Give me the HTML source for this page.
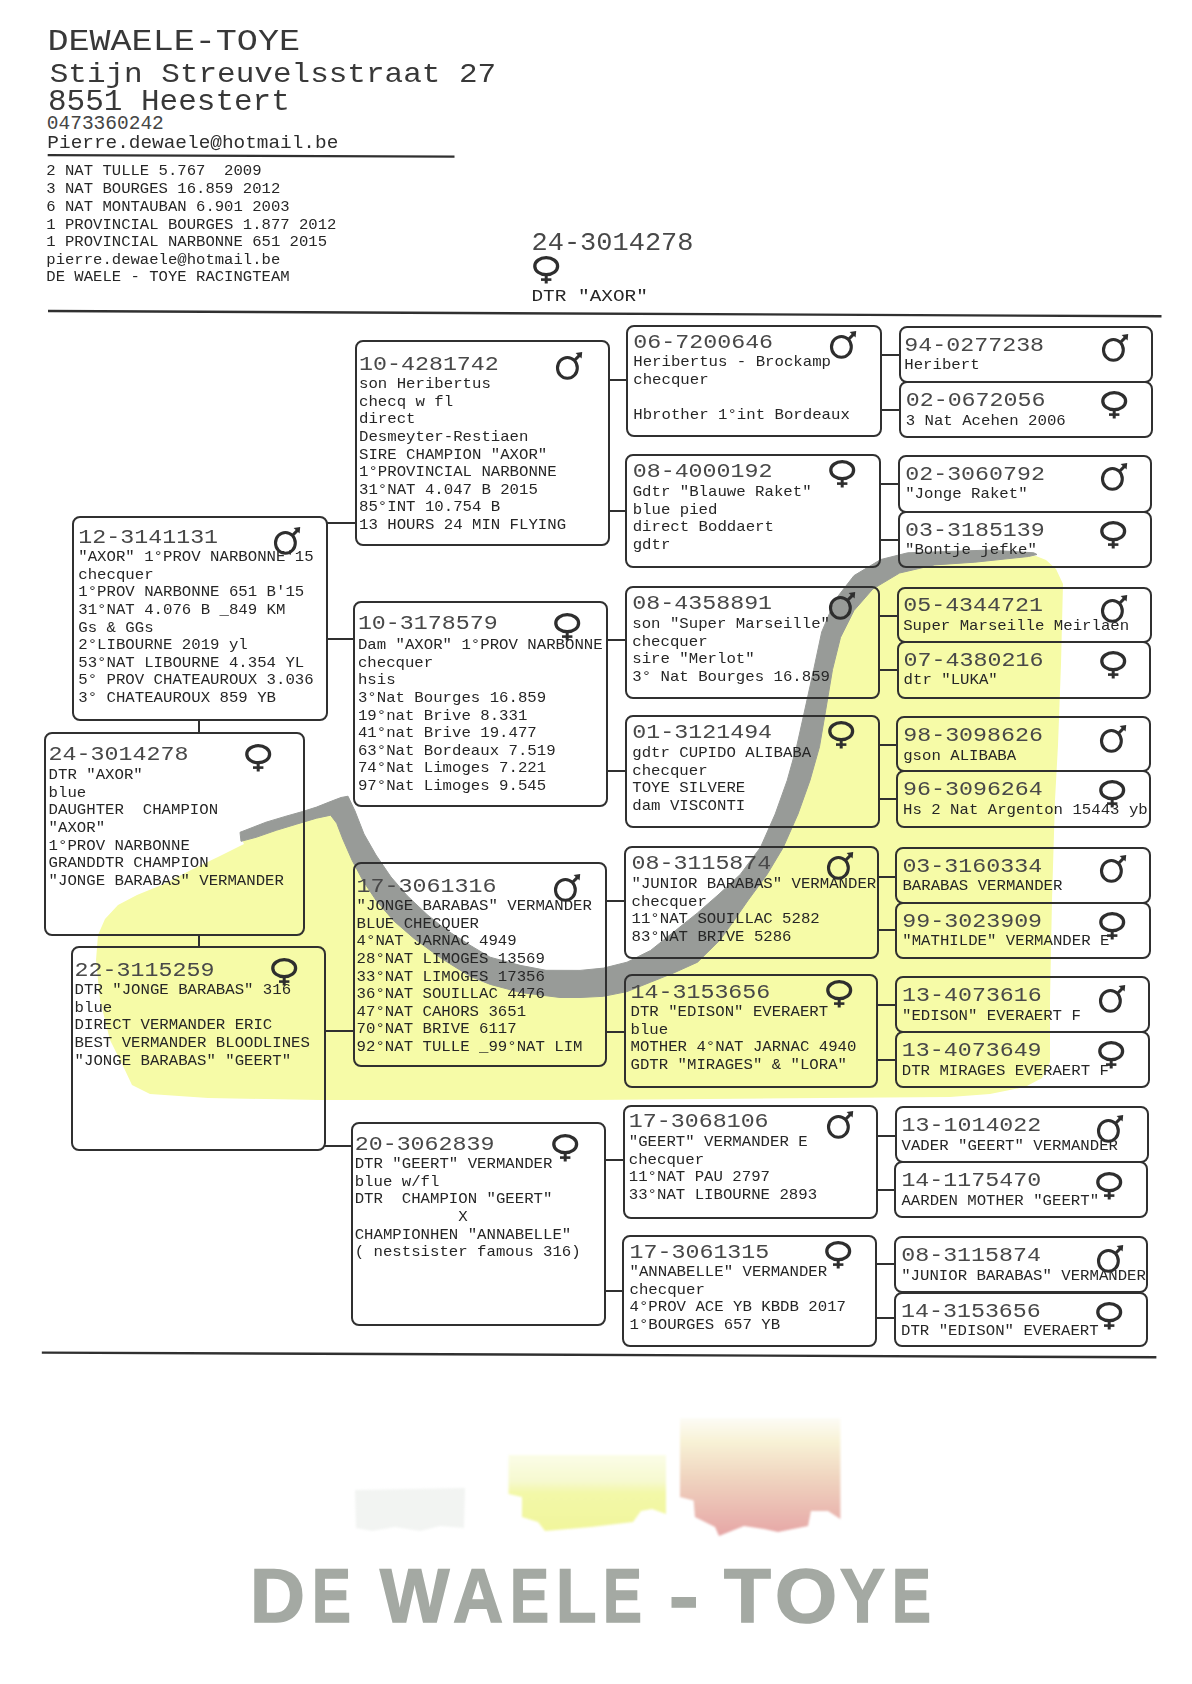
<!DOCTYPE html>
<html><head><meta charset="utf-8"><style>
html,body{margin:0;padding:0;background:#fff;}
body{width:1192px;height:1684px;position:relative;overflow:hidden;}
.abs{position:absolute;left:0;top:0;}
.t{position:absolute;white-space:pre;font-family:"Liberation Mono",monospace;transform-origin:0 0;}
.bx{position:absolute;box-sizing:border-box;border:2px solid #303030;border-radius:8px;}
.ln{position:absolute;background:#303030;}
.sym{position:absolute;overflow:visible;}
.lg{position:absolute;font-family:"Liberation Sans",sans-serif;font-weight:bold;font-size:76.5px;line-height:76.5px;color:#a4a9a3;white-space:pre;transform-origin:0 0;-webkit-text-stroke:1.6px #a4a9a3;}
</style></head><body>
<svg class="abs" style="filter:blur(0.7px)" width="1192" height="1684" viewBox="0 0 1192 1684"><polygon points="240.0,836.0 290.0,820.0 333.0,806.0 345.0,806.0 358.0,838.0 372.0,866.0 390.0,893.0 410.0,915.0 440.0,941.0 470.0,958.0 505.0,973.0 545.0,983.0 580.0,985.0 615.0,980.0 650.0,967.0 685.0,945.0 715.0,918.0 745.0,882.0 770.0,845.0 788.0,808.0 800.0,770.0 810.0,725.0 818.0,680.0 828.0,640.0 845.0,606.0 870.0,582.0 905.0,566.0 950.0,560.0 1000.0,557.0 1036.0,556.0 1046.0,560.0 1056.0,569.0 1063.0,584.0 1061.0,664.0 1058.0,745.0 1055.0,800.0 1052.0,900.0 1050.0,1000.0 1050.0,1062.0 1042.0,1078.0 1025.0,1087.0 990.0,1094.0 950.0,1097.0 590.0,1100.0 320.0,1100.0 208.0,1098.0 150.0,1094.0 132.0,1085.0 124.0,1068.0 110.0,1040.0 100.0,1000.0 96.0,960.0 98.0,935.0 105.0,919.0 118.0,905.0 137.0,895.0 164.0,884.0 191.0,870.0 220.0,856.0 244.0,844.0" fill="#f6fba7"/><polygon points="240.0,832.3 266.0,822.2 286.0,816.2 302.4,811.6 316.5,807.1 331.6,801.1 341.0,797.5 348.0,796.2 355.0,811.0 364.0,834.0 376.0,855.0 391.0,877.0 407.0,895.5 427.0,914.5 445.0,929.0 470.0,945.2 490.0,957.2 520.0,965.3 546.0,970.3 580.0,970.4 603.5,968.1 627.0,962.2 650.5,950.5 674.0,931.7 697.5,912.9 718.0,895.0 740.3,874.4 760.4,847.5 775.2,814.0 787.2,780.4 796.6,746.8 803.0,718.0 813.7,669.6 821.7,632.0 835.2,599.8 854.0,575.6 880.8,559.5 907.7,552.8 948.0,551.5 988.2,550.1 1033.8,552.8 1037.0,554.5 1028.5,556.5 974.8,562.2 934.5,564.9 899.6,573.0 872.8,589.0 854.0,610.5 840.5,637.4 832.5,669.6 824.4,718.0 819.5,746.8 810.0,780.4 798.0,814.0 783.2,847.5 767.1,874.4 748.3,900.0 733.0,922.0 720.0,940.0 697.5,962.2 674.0,972.8 650.5,982.2 627.0,991.6 603.5,996.3 580.0,997.5 560.0,997.5 520.5,992.5 490.3,984.4 470.2,976.4 440.8,958.0 414.0,938.4 393.8,920.9 376.4,900.8 363.0,880.7 352.2,860.5 342.8,839.1 336.7,823.2 330.6,815.2 316.5,818.2 296.4,824.2 276.3,830.3 256.1,837.3 241.0,841.3" fill="#989b98" stroke="#989b98" stroke-width="1" stroke-linejoin="round"/></svg>
<svg class="abs" style="filter:blur(1.2px)" width="1192" height="1684" viewBox="0 0 1192 1684"><defs><linearGradient id="gy" x1="0" y1="0" x2="0" y2="1"><stop offset="0" stop-color="#fbfde8"/><stop offset="0.35" stop-color="#f6f9cf"/><stop offset="0.5" stop-color="#f3f8a8"/><stop offset="1" stop-color="#f1f69c"/></linearGradient><linearGradient id="gp" x1="0" y1="0" x2="0" y2="1"><stop offset="0" stop-color="#fdfcf6"/><stop offset="0.2" stop-color="#f8f2d6"/><stop offset="0.5" stop-color="#f0d5c0"/><stop offset="1" stop-color="#e6a6a6"/></linearGradient></defs><path d="M355 1490 L465 1488 L464 1528 L440 1526 L420 1531 L395 1527 L372 1531 L356 1528 Z" fill="#f2f4f2"/><path d="M508.5 1455 L666 1455 L666 1514 L652 1509 L641 1511 L633 1522 L591 1527 L545 1531 L538 1522 L522 1517 L522 1497 L508.5 1494 Z" fill="url(#gy)"/><path d="M680 1418 L840.4 1418 L840.4 1519 L828 1511 L811 1511 L808 1526 L778 1532 L764 1529 L744 1526 L719 1536 L715 1527 L695 1517 L693.6 1500.6 L680 1497 Z" fill="url(#gp)"/></svg>
<svg class="abs" width="1192" height="1684" viewBox="0 0 1192 1684"><line x1="47.7" y1="155.2" x2="454.5" y2="156.6" stroke="#303030" stroke-width="2.2"/><line x1="48" y1="311" x2="1161.5" y2="316.3" stroke="#303030" stroke-width="2.4"/><line x1="41.8" y1="1352.6" x2="1156.4" y2="1357.3" stroke="#303030" stroke-width="2.4"/></svg>
<div class="t" style="left:47.43px;top:21.91px;font-size:35.10px;line-height:48.977px;transform:scaleY(0.86);color:#383838;font-weight:normal;">DEWAELE-TOYE</div>
<div class="t" style="left:49.69px;top:55.81px;font-size:31.00px;line-height:40.435px;transform:scaleY(0.92);color:#383838;font-weight:normal;">Stijn Streuvelsstraat 27</div>
<div class="t" style="left:47.98px;top:83.73px;font-size:31.00px;line-height:40.000px;transform:scaleY(0.93);color:#383838;font-weight:normal;">8551 Heestert</div>
<div class="t" style="left:46.81px;top:112.51px;font-size:19.50px;line-height:23.400px;transform:scaleY(1.0);color:#454545;font-weight:normal;">0473360242</div>
<div class="t" style="left:47.37px;top:132.24px;font-size:19.40px;line-height:25.443px;transform:scaleY(0.915);color:#2e2e2e;font-weight:normal;">Pierre.dewaele@hotmail.be</div>
<div class="t" style="left:46.31px;top:162.57px;font-size:15.60px;line-height:18.505px;transform:scaleY(0.95);color:#262626;font-weight:normal;">2 NAT TULLE 5.767  2009
3 NAT BOURGES 16.859 2012
6 NAT MONTAUBAN 6.901 2003
1 PROVINCIAL BOURGES 1.877 2012
1 PROVINCIAL NARBONNE 651 2015
pierre.dewaele@hotmail.be
DE WAELE - TOYE RACINGTEAM</div>
<div class="t" style="left:531.51px;top:226.95px;font-size:27.00px;line-height:34.468px;transform:scaleY(0.94);color:#484848;font-weight:normal;">24-3014278</div>
<svg class="sym" style="left:533.0px;top:256.0px" width="27" height="28" viewBox="0 0 27 28"><ellipse cx="13.2" cy="10.2" rx="11.4" ry="8.5" fill="none" stroke="#2e2e2e" stroke-width="3.3"/><path d="M13.2 18 L13.2 27.5" stroke="#2e2e2e" stroke-width="3" fill="none"/><path d="M8 23.6 L18.4 23.6" stroke="#2e2e2e" stroke-width="2.6" fill="none"/></svg>
<div class="t" style="left:531.47px;top:285.28px;font-size:19.40px;line-height:28.048px;transform:scaleY(0.83);color:#262626;font-weight:normal;">DTR "AXOR"</div>
<div class="bx" style="left:72.0px;top:515.6px;width:255.6px;height:205.4px"></div>
<div class="t" style="left:78.30px;top:524.31px;font-size:23.30px;line-height:30.895px;transform:scaleY(0.905);color:#484848;font-weight:normal;">12-3141131</div>
<div class="t" style="left:78.30px;top:549.11px;font-size:15.70px;line-height:18.925px;transform:scaleY(0.93);color:#262626;font-weight:normal;">"AXOR" 1°PROV NARBONNE'15
checquer
1°PROV NARBONNE 651 B'15
31°NAT 4.076 B _849 KM
Gs &amp; GGs
2°LIBOURNE 2019 yl
53°NAT LIBOURNE 4.354 YL
5° PROV CHATEAUROUX 3.036
3° CHATEAUROUX 859 YB</div>
<svg class="sym" style="left:273.8px;top:526.1px" width="27" height="28" viewBox="0 0 27 28"><ellipse cx="11.4" cy="16.9" rx="9.9" ry="10.4" fill="none" stroke="#2e2e2e" stroke-width="3.1"/><path d="M18.2 9.8 L23.4 4.4" stroke="#2e2e2e" stroke-width="3" fill="none"/><path d="M19.6 2.0 L26.2 1.0 L25.6 7.6 Z" fill="#2e2e2e"/></svg>
<div class="bx" style="left:43.8px;top:731.9px;width:261.6px;height:203.9px"></div>
<div class="t" style="left:48.60px;top:741.11px;font-size:23.30px;line-height:30.895px;transform:scaleY(0.905);color:#484848;font-weight:normal;">24-3014278</div>
<div class="t" style="left:48.60px;top:767.21px;font-size:15.70px;line-height:18.925px;transform:scaleY(0.93);color:#262626;font-weight:normal;">DTR "AXOR"
blue
DAUGHTER  CHAMPION
"AXOR"
1°PROV NARBONNE
GRANDDTR CHAMPION
"JONGE BARABAS" VERMANDER</div>
<svg class="sym" style="left:245.3px;top:743.6px" width="27" height="28" viewBox="0 0 27 28"><ellipse cx="13.2" cy="10.2" rx="11.4" ry="8.5" fill="none" stroke="#2e2e2e" stroke-width="3.3"/><path d="M13.2 18 L13.2 27.5" stroke="#2e2e2e" stroke-width="3" fill="none"/><path d="M8 23.6 L18.4 23.6" stroke="#2e2e2e" stroke-width="2.6" fill="none"/></svg>
<div class="bx" style="left:70.7px;top:946.0px;width:254.9px;height:205.4px"></div>
<div class="t" style="left:74.60px;top:957.21px;font-size:23.30px;line-height:30.895px;transform:scaleY(0.905);color:#484848;font-weight:normal;">22-3115259</div>
<div class="t" style="left:74.60px;top:982.01px;font-size:15.70px;line-height:18.925px;transform:scaleY(0.93);color:#262626;font-weight:normal;">DTR "JONGE BARABAS" 316
blue
DIRECT VERMANDER ERIC
BEST VERMANDER BLOODLINES
"JONGE BARABAS" "GEERT"</div>
<svg class="sym" style="left:271.2px;top:958.2px" width="27" height="28" viewBox="0 0 27 28"><ellipse cx="13.2" cy="10.2" rx="11.4" ry="8.5" fill="none" stroke="#2e2e2e" stroke-width="3.3"/><path d="M13.2 18 L13.2 27.5" stroke="#2e2e2e" stroke-width="3" fill="none"/><path d="M8 23.6 L18.4 23.6" stroke="#2e2e2e" stroke-width="2.6" fill="none"/></svg>
<div class="bx" style="left:354.6px;top:340.4px;width:255.2px;height:205.9px"></div>
<div class="t" style="left:359.00px;top:350.61px;font-size:23.30px;line-height:30.895px;transform:scaleY(0.905);color:#484848;font-weight:normal;">10-4281742</div>
<div class="t" style="left:359.00px;top:376.41px;font-size:15.70px;line-height:18.925px;transform:scaleY(0.93);color:#262626;font-weight:normal;">son Heribertus
checq w fl
direct
Desmeyter-Restiaen
SIRE CHAMPION "AXOR"
1°PROVINCIAL NARBONNE
31°NAT 4.047 B 2015
85°INT 10.754 B
13 HOURS 24 MIN FLYING</div>
<svg class="sym" style="left:556.0px;top:350.9px" width="27" height="28" viewBox="0 0 27 28"><ellipse cx="11.4" cy="16.9" rx="9.9" ry="10.4" fill="none" stroke="#2e2e2e" stroke-width="3.1"/><path d="M18.2 9.8 L23.4 4.4" stroke="#2e2e2e" stroke-width="3" fill="none"/><path d="M19.6 2.0 L26.2 1.0 L25.6 7.6 Z" fill="#2e2e2e"/></svg>
<div class="bx" style="left:353.4px;top:601.0px;width:254.8px;height:206.1px"></div>
<div class="t" style="left:357.90px;top:610.41px;font-size:23.30px;line-height:30.895px;transform:scaleY(0.905);color:#484848;font-weight:normal;">10-3178579</div>
<div class="t" style="left:357.90px;top:637.01px;font-size:15.70px;line-height:18.925px;transform:scaleY(0.93);color:#262626;font-weight:normal;">Dam "AXOR" 1°PROV NARBONNE
checquer
hsis
3°Nat Bourges 16.859
19°nat Brive 8.331
41°nat Brive 19.477
63°Nat Bordeaux 7.519
74°Nat Limoges 7.221
97°Nat Limoges 9.545</div>
<svg class="sym" style="left:553.9px;top:613.2px" width="27" height="28" viewBox="0 0 27 28"><ellipse cx="13.2" cy="10.2" rx="11.4" ry="8.5" fill="none" stroke="#2e2e2e" stroke-width="3.3"/><path d="M13.2 18 L13.2 27.5" stroke="#2e2e2e" stroke-width="3" fill="none"/><path d="M8 23.6 L18.4 23.6" stroke="#2e2e2e" stroke-width="2.6" fill="none"/></svg>
<div class="bx" style="left:352.6px;top:862.4px;width:254.9px;height:204.7px"></div>
<div class="t" style="left:356.60px;top:872.61px;font-size:23.30px;line-height:30.895px;transform:scaleY(0.905);color:#484848;font-weight:normal;">17-3061316</div>
<div class="t" style="left:356.60px;top:897.91px;font-size:15.70px;line-height:18.925px;transform:scaleY(0.93);color:#262626;font-weight:normal;">"JONGE BARABAS" VERMANDER
BLUE CHECQUER
4°NAT JARNAC 4949
28°NAT LIMOGES 13569
33°NAT LIMOGES 17356
36°NAT SOUILLAC 4476
47°NAT CAHORS 3651
70°NAT BRIVE 6117
92°NAT TULLE _99°NAT LIM</div>
<svg class="sym" style="left:553.7px;top:872.9px" width="27" height="28" viewBox="0 0 27 28"><ellipse cx="11.4" cy="16.9" rx="9.9" ry="10.4" fill="none" stroke="#2e2e2e" stroke-width="3.1"/><path d="M18.2 9.8 L23.4 4.4" stroke="#2e2e2e" stroke-width="3" fill="none"/><path d="M19.6 2.0 L26.2 1.0 L25.6 7.6 Z" fill="#2e2e2e"/></svg>
<div class="bx" style="left:351.1px;top:1121.7px;width:255.4px;height:204.4px"></div>
<div class="t" style="left:354.70px;top:1130.91px;font-size:23.30px;line-height:30.895px;transform:scaleY(0.905);color:#484848;font-weight:normal;">20-3062839</div>
<div class="t" style="left:354.70px;top:1156.21px;font-size:15.70px;line-height:18.925px;transform:scaleY(0.93);color:#262626;font-weight:normal;">DTR "GEERT" VERMANDER
blue w/fl
DTR  CHAMPION "GEERT"
           X
CHAMPIONHEN "ANNABELLE"
( nestsister famous 316)</div>
<svg class="sym" style="left:552.1px;top:1133.9px" width="27" height="28" viewBox="0 0 27 28"><ellipse cx="13.2" cy="10.2" rx="11.4" ry="8.5" fill="none" stroke="#2e2e2e" stroke-width="3.3"/><path d="M13.2 18 L13.2 27.5" stroke="#2e2e2e" stroke-width="3" fill="none"/><path d="M8 23.6 L18.4 23.6" stroke="#2e2e2e" stroke-width="2.6" fill="none"/></svg>
<div class="bx" style="left:626.0px;top:324.6px;width:255.6px;height:112.2px"></div>
<div class="t" style="left:633.30px;top:328.81px;font-size:23.30px;line-height:30.895px;transform:scaleY(0.905);color:#484848;font-weight:normal;">06-7200646</div>
<div class="t" style="left:633.30px;top:353.71px;font-size:15.70px;line-height:18.925px;transform:scaleY(0.93);color:#262626;font-weight:normal;">Heribertus - Brockamp
checquer

Hbrother 1°int Bordeaux</div>
<svg class="sym" style="left:830.2px;top:329.8px" width="27" height="28" viewBox="0 0 27 28"><ellipse cx="11.4" cy="16.9" rx="9.9" ry="10.4" fill="none" stroke="#2e2e2e" stroke-width="3.1"/><path d="M18.2 9.8 L23.4 4.4" stroke="#2e2e2e" stroke-width="3" fill="none"/><path d="M19.6 2.0 L26.2 1.0 L25.6 7.6 Z" fill="#2e2e2e"/></svg>
<div class="bx" style="left:625.4px;top:454.2px;width:255.6px;height:113.5px"></div>
<div class="t" style="left:632.70px;top:458.41px;font-size:23.30px;line-height:30.895px;transform:scaleY(0.905);color:#484848;font-weight:normal;">08-4000192</div>
<div class="t" style="left:632.70px;top:484.31px;font-size:15.70px;line-height:18.925px;transform:scaleY(0.93);color:#262626;font-weight:normal;">Gdtr "Blauwe Raket"
blue pied
direct Boddaert
gdtr</div>
<svg class="sym" style="left:828.5px;top:459.9px" width="27" height="28" viewBox="0 0 27 28"><ellipse cx="13.2" cy="10.2" rx="11.4" ry="8.5" fill="none" stroke="#2e2e2e" stroke-width="3.3"/><path d="M13.2 18 L13.2 27.5" stroke="#2e2e2e" stroke-width="3" fill="none"/><path d="M8 23.6 L18.4 23.6" stroke="#2e2e2e" stroke-width="2.6" fill="none"/></svg>
<div class="bx" style="left:625.0px;top:585.6px;width:255.0px;height:113.2px"></div>
<div class="t" style="left:632.30px;top:589.81px;font-size:23.30px;line-height:30.895px;transform:scaleY(0.905);color:#484848;font-weight:normal;">08-4358891</div>
<div class="t" style="left:632.30px;top:615.71px;font-size:15.70px;line-height:18.925px;transform:scaleY(0.93);color:#262626;font-weight:normal;">son "Super Marseille"
checquer
sire "Merlot"
3° Nat Bourges 16.859</div>
<svg class="sym" style="left:828.6px;top:590.8px" width="27" height="28" viewBox="0 0 27 28"><ellipse cx="11.4" cy="16.9" rx="9.9" ry="10.4" fill="none" stroke="#2e2e2e" stroke-width="3.1"/><path d="M18.2 9.8 L23.4 4.4" stroke="#2e2e2e" stroke-width="3" fill="none"/><path d="M19.6 2.0 L26.2 1.0 L25.6 7.6 Z" fill="#2e2e2e"/></svg>
<div class="bx" style="left:625.0px;top:714.8px;width:255.0px;height:113.2px"></div>
<div class="t" style="left:632.30px;top:719.01px;font-size:23.30px;line-height:30.895px;transform:scaleY(0.905);color:#484848;font-weight:normal;">01-3121494</div>
<div class="t" style="left:632.30px;top:744.91px;font-size:15.70px;line-height:18.925px;transform:scaleY(0.93);color:#262626;font-weight:normal;">gdtr CUPIDO ALIBABA
checquer
TOYE SILVERE
dam VISCONTI</div>
<svg class="sym" style="left:827.5px;top:720.5px" width="27" height="28" viewBox="0 0 27 28"><ellipse cx="13.2" cy="10.2" rx="11.4" ry="8.5" fill="none" stroke="#2e2e2e" stroke-width="3.3"/><path d="M13.2 18 L13.2 27.5" stroke="#2e2e2e" stroke-width="3" fill="none"/><path d="M8 23.6 L18.4 23.6" stroke="#2e2e2e" stroke-width="2.6" fill="none"/></svg>
<div class="bx" style="left:624.2px;top:846.0px;width:254.5px;height:112.5px"></div>
<div class="t" style="left:631.50px;top:850.21px;font-size:23.30px;line-height:30.895px;transform:scaleY(0.905);color:#484848;font-weight:normal;">08-3115874</div>
<div class="t" style="left:631.50px;top:876.11px;font-size:15.70px;line-height:18.925px;transform:scaleY(0.93);color:#262626;font-weight:normal;">"JUNIOR BARABAS" VERMANDER
checquer
11°NAT SOUILLAC 5282
83°NAT BRIVE 5286</div>
<svg class="sym" style="left:827.3px;top:851.1px" width="27" height="28" viewBox="0 0 27 28"><ellipse cx="11.4" cy="16.9" rx="9.9" ry="10.4" fill="none" stroke="#2e2e2e" stroke-width="3.1"/><path d="M18.2 9.8 L23.4 4.4" stroke="#2e2e2e" stroke-width="3" fill="none"/><path d="M19.6 2.0 L26.2 1.0 L25.6 7.6 Z" fill="#2e2e2e"/></svg>
<div class="bx" style="left:624.2px;top:974.3px;width:254.2px;height:113.8px"></div>
<div class="t" style="left:630.50px;top:978.51px;font-size:23.30px;line-height:30.895px;transform:scaleY(0.905);color:#484848;font-weight:normal;">14-3153656</div>
<div class="t" style="left:630.50px;top:1004.41px;font-size:15.70px;line-height:18.925px;transform:scaleY(0.93);color:#262626;font-weight:normal;">DTR "EDISON" EVERAERT
blue
MOTHER 4°NAT JARNAC 4940
GDTR "MIRAGES" &amp; "LORA"</div>
<svg class="sym" style="left:825.9px;top:980.0px" width="27" height="28" viewBox="0 0 27 28"><ellipse cx="13.2" cy="10.2" rx="11.4" ry="8.5" fill="none" stroke="#2e2e2e" stroke-width="3.3"/><path d="M13.2 18 L13.2 27.5" stroke="#2e2e2e" stroke-width="3" fill="none"/><path d="M8 23.6 L18.4 23.6" stroke="#2e2e2e" stroke-width="2.6" fill="none"/></svg>
<div class="bx" style="left:623.4px;top:1105.0px;width:254.5px;height:114.0px"></div>
<div class="t" style="left:628.80px;top:1108.21px;font-size:23.30px;line-height:30.895px;transform:scaleY(0.905);color:#484848;font-weight:normal;">17-3068106</div>
<div class="t" style="left:628.80px;top:1134.41px;font-size:15.70px;line-height:18.925px;transform:scaleY(0.93);color:#262626;font-weight:normal;">"GEERT" VERMANDER E
checquer
11°NAT PAU 2797
33°NAT LIBOURNE 2893</div>
<svg class="sym" style="left:826.5px;top:1110.2px" width="27" height="28" viewBox="0 0 27 28"><ellipse cx="11.4" cy="16.9" rx="9.9" ry="10.4" fill="none" stroke="#2e2e2e" stroke-width="3.1"/><path d="M18.2 9.8 L23.4 4.4" stroke="#2e2e2e" stroke-width="3" fill="none"/><path d="M19.6 2.0 L26.2 1.0 L25.6 7.6 Z" fill="#2e2e2e"/></svg>
<div class="bx" style="left:622.2px;top:1235.2px;width:255.0px;height:112.0px"></div>
<div class="t" style="left:629.50px;top:1239.41px;font-size:23.30px;line-height:30.895px;transform:scaleY(0.905);color:#484848;font-weight:normal;">17-3061315</div>
<div class="t" style="left:629.50px;top:1263.81px;font-size:15.70px;line-height:18.925px;transform:scaleY(0.93);color:#262626;font-weight:normal;">"ANNABELLE" VERMANDER
checquer
4°PROV ACE YB KBDB 2017
1°BOURGES 657 YB</div>
<svg class="sym" style="left:824.7px;top:1240.9px" width="27" height="28" viewBox="0 0 27 28"><ellipse cx="13.2" cy="10.2" rx="11.4" ry="8.5" fill="none" stroke="#2e2e2e" stroke-width="3.3"/><path d="M13.2 18 L13.2 27.5" stroke="#2e2e2e" stroke-width="3" fill="none"/><path d="M8 23.6 L18.4 23.6" stroke="#2e2e2e" stroke-width="2.6" fill="none"/></svg>
<div class="bx" style="left:898.7px;top:326.1px;width:254.2px;height:57.2px"></div>
<div class="t" style="left:904.30px;top:331.61px;font-size:23.30px;line-height:30.895px;transform:scaleY(0.905);color:#484848;font-weight:normal;">94-0277238</div>
<div class="t" style="left:904.30px;top:357.41px;font-size:15.70px;line-height:18.925px;transform:scaleY(0.93);color:#262626;font-weight:normal;">Heribert</div>
<svg class="sym" style="left:1101.8px;top:333.4px" width="27" height="28" viewBox="0 0 27 28"><ellipse cx="11.4" cy="16.9" rx="9.9" ry="10.4" fill="none" stroke="#2e2e2e" stroke-width="3.1"/><path d="M18.2 9.8 L23.4 4.4" stroke="#2e2e2e" stroke-width="3" fill="none"/><path d="M19.6 2.0 L26.2 1.0 L25.6 7.6 Z" fill="#2e2e2e"/></svg>
<div class="bx" style="left:898.7px;top:381.3px;width:254.2px;height:56.8px"></div>
<div class="t" style="left:905.70px;top:387.31px;font-size:23.30px;line-height:30.895px;transform:scaleY(0.905);color:#484848;font-weight:normal;">02-0672056</div>
<div class="t" style="left:905.70px;top:412.61px;font-size:15.70px;line-height:18.925px;transform:scaleY(0.93);color:#262626;font-weight:normal;">3 Nat Acehen 2006</div>
<svg class="sym" style="left:1100.9px;top:391.4px" width="27" height="28" viewBox="0 0 27 28"><ellipse cx="13.2" cy="10.2" rx="11.4" ry="8.5" fill="none" stroke="#2e2e2e" stroke-width="3.3"/><path d="M13.2 18 L13.2 27.5" stroke="#2e2e2e" stroke-width="3" fill="none"/><path d="M8 23.6 L18.4 23.6" stroke="#2e2e2e" stroke-width="2.6" fill="none"/></svg>
<div class="bx" style="left:898.2px;top:455.0px;width:254.2px;height:57.7px"></div>
<div class="t" style="left:905.20px;top:461.01px;font-size:23.30px;line-height:30.895px;transform:scaleY(0.905);color:#484848;font-weight:normal;">02-3060792</div>
<div class="t" style="left:905.20px;top:486.31px;font-size:15.70px;line-height:18.925px;transform:scaleY(0.93);color:#262626;font-weight:normal;">"Jonge Raket"</div>
<svg class="sym" style="left:1101.3px;top:462.3px" width="27" height="28" viewBox="0 0 27 28"><ellipse cx="11.4" cy="16.9" rx="9.9" ry="10.4" fill="none" stroke="#2e2e2e" stroke-width="3.1"/><path d="M18.2 9.8 L23.4 4.4" stroke="#2e2e2e" stroke-width="3" fill="none"/><path d="M19.6 2.0 L26.2 1.0 L25.6 7.6 Z" fill="#2e2e2e"/></svg>
<div class="bx" style="left:898.0px;top:510.7px;width:254.2px;height:57.5px"></div>
<div class="t" style="left:905.00px;top:516.71px;font-size:23.30px;line-height:30.895px;transform:scaleY(0.905);color:#484848;font-weight:normal;">03-3185139</div>
<div class="t" style="left:905.00px;top:542.01px;font-size:15.70px;line-height:18.925px;transform:scaleY(0.93);color:#262626;font-weight:normal;">"Bontje jefke"</div>
<svg class="sym" style="left:1100.2px;top:520.8px" width="27" height="28" viewBox="0 0 27 28"><ellipse cx="13.2" cy="10.2" rx="11.4" ry="8.5" fill="none" stroke="#2e2e2e" stroke-width="3.3"/><path d="M13.2 18 L13.2 27.5" stroke="#2e2e2e" stroke-width="3" fill="none"/><path d="M8 23.6 L18.4 23.6" stroke="#2e2e2e" stroke-width="2.6" fill="none"/></svg>
<div class="bx" style="left:896.7px;top:586.6px;width:254.9px;height:56.3px"></div>
<div class="t" style="left:903.20px;top:592.11px;font-size:23.30px;line-height:30.895px;transform:scaleY(0.905);color:#484848;font-weight:normal;">05-4344721</div>
<div class="t" style="left:903.20px;top:617.91px;font-size:15.70px;line-height:18.925px;transform:scaleY(0.93);color:#262626;font-weight:normal;">Super Marseille Meirlaen</div>
<svg class="sym" style="left:1100.5px;top:593.9px" width="27" height="28" viewBox="0 0 27 28"><ellipse cx="11.4" cy="16.9" rx="9.9" ry="10.4" fill="none" stroke="#2e2e2e" stroke-width="3.1"/><path d="M18.2 9.8 L23.4 4.4" stroke="#2e2e2e" stroke-width="3" fill="none"/><path d="M19.6 2.0 L26.2 1.0 L25.6 7.6 Z" fill="#2e2e2e"/></svg>
<div class="bx" style="left:896.6px;top:640.9px;width:254.9px;height:57.9px"></div>
<div class="t" style="left:903.60px;top:646.91px;font-size:23.30px;line-height:30.895px;transform:scaleY(0.905);color:#484848;font-weight:normal;">07-4380216</div>
<div class="t" style="left:903.60px;top:672.21px;font-size:15.70px;line-height:18.925px;transform:scaleY(0.93);color:#262626;font-weight:normal;">dtr "LUKA"</div>
<svg class="sym" style="left:1099.5px;top:651.0px" width="27" height="28" viewBox="0 0 27 28"><ellipse cx="13.2" cy="10.2" rx="11.4" ry="8.5" fill="none" stroke="#2e2e2e" stroke-width="3.3"/><path d="M13.2 18 L13.2 27.5" stroke="#2e2e2e" stroke-width="3" fill="none"/><path d="M8 23.6 L18.4 23.6" stroke="#2e2e2e" stroke-width="2.6" fill="none"/></svg>
<div class="bx" style="left:896.2px;top:716.2px;width:255.1px;height:56.0px"></div>
<div class="t" style="left:903.20px;top:722.21px;font-size:23.30px;line-height:30.895px;transform:scaleY(0.905);color:#484848;font-weight:normal;">98-3098626</div>
<div class="t" style="left:903.20px;top:747.51px;font-size:15.70px;line-height:18.925px;transform:scaleY(0.93);color:#262626;font-weight:normal;">gson ALIBABA</div>
<svg class="sym" style="left:1100.2px;top:723.5px" width="27" height="28" viewBox="0 0 27 28"><ellipse cx="11.4" cy="16.9" rx="9.9" ry="10.4" fill="none" stroke="#2e2e2e" stroke-width="3.1"/><path d="M18.2 9.8 L23.4 4.4" stroke="#2e2e2e" stroke-width="3" fill="none"/><path d="M19.6 2.0 L26.2 1.0 L25.6 7.6 Z" fill="#2e2e2e"/></svg>
<div class="bx" style="left:896.0px;top:770.2px;width:255.2px;height:57.5px"></div>
<div class="t" style="left:903.00px;top:776.26px;font-size:23.30px;line-height:30.895px;transform:scaleY(0.905);color:#484848;font-weight:normal;">96-3096264</div>
<div class="t" style="left:903.00px;top:801.56px;font-size:15.70px;line-height:18.925px;transform:scaleY(0.93);color:#262626;font-weight:normal;">Hs 2 Nat Argenton 15443 yb</div>
<svg class="sym" style="left:1099.2px;top:780.3px" width="27" height="28" viewBox="0 0 27 28"><ellipse cx="13.2" cy="10.2" rx="11.4" ry="8.5" fill="none" stroke="#2e2e2e" stroke-width="3.3"/><path d="M13.2 18 L13.2 27.5" stroke="#2e2e2e" stroke-width="3" fill="none"/><path d="M8 23.6 L18.4 23.6" stroke="#2e2e2e" stroke-width="2.6" fill="none"/></svg>
<div class="bx" style="left:895.4px;top:847.0px;width:255.5px;height:57.0px"></div>
<div class="t" style="left:902.40px;top:853.01px;font-size:23.30px;line-height:30.895px;transform:scaleY(0.905);color:#484848;font-weight:normal;">03-3160334</div>
<div class="t" style="left:902.40px;top:878.31px;font-size:15.70px;line-height:18.925px;transform:scaleY(0.93);color:#262626;font-weight:normal;">BARABAS VERMANDER</div>
<svg class="sym" style="left:1099.8px;top:854.3px" width="27" height="28" viewBox="0 0 27 28"><ellipse cx="11.4" cy="16.9" rx="9.9" ry="10.4" fill="none" stroke="#2e2e2e" stroke-width="3.1"/><path d="M18.2 9.8 L23.4 4.4" stroke="#2e2e2e" stroke-width="3" fill="none"/><path d="M19.6 2.0 L26.2 1.0 L25.6 7.6 Z" fill="#2e2e2e"/></svg>
<div class="bx" style="left:895.3px;top:902.0px;width:255.3px;height:56.8px"></div>
<div class="t" style="left:902.30px;top:908.01px;font-size:23.30px;line-height:30.895px;transform:scaleY(0.905);color:#484848;font-weight:normal;">99-3023909</div>
<div class="t" style="left:902.30px;top:933.31px;font-size:15.70px;line-height:18.925px;transform:scaleY(0.93);color:#262626;font-weight:normal;">"MATHILDE" VERMANDER E</div>
<svg class="sym" style="left:1098.5px;top:912.1px" width="27" height="28" viewBox="0 0 27 28"><ellipse cx="13.2" cy="10.2" rx="11.4" ry="8.5" fill="none" stroke="#2e2e2e" stroke-width="3.3"/><path d="M13.2 18 L13.2 27.5" stroke="#2e2e2e" stroke-width="3" fill="none"/><path d="M8 23.6 L18.4 23.6" stroke="#2e2e2e" stroke-width="2.6" fill="none"/></svg>
<div class="bx" style="left:895.0px;top:976.2px;width:255.0px;height:57.1px"></div>
<div class="t" style="left:902.00px;top:982.21px;font-size:23.30px;line-height:30.895px;transform:scaleY(0.905);color:#484848;font-weight:normal;">13-4073616</div>
<div class="t" style="left:902.00px;top:1007.51px;font-size:15.70px;line-height:18.925px;transform:scaleY(0.93);color:#262626;font-weight:normal;">"EDISON" EVERAERT F</div>
<svg class="sym" style="left:1098.9px;top:983.5px" width="27" height="28" viewBox="0 0 27 28"><ellipse cx="11.4" cy="16.9" rx="9.9" ry="10.4" fill="none" stroke="#2e2e2e" stroke-width="3.1"/><path d="M18.2 9.8 L23.4 4.4" stroke="#2e2e2e" stroke-width="3" fill="none"/><path d="M19.6 2.0 L26.2 1.0 L25.6 7.6 Z" fill="#2e2e2e"/></svg>
<div class="bx" style="left:894.8px;top:1031.3px;width:254.8px;height:56.4px"></div>
<div class="t" style="left:901.80px;top:1037.31px;font-size:23.30px;line-height:30.895px;transform:scaleY(0.905);color:#484848;font-weight:normal;">13-4073649</div>
<div class="t" style="left:901.80px;top:1062.61px;font-size:15.70px;line-height:18.925px;transform:scaleY(0.93);color:#262626;font-weight:normal;">DTR MIRAGES EVERAERT F</div>
<svg class="sym" style="left:1097.5px;top:1041.3px" width="27" height="28" viewBox="0 0 27 28"><ellipse cx="13.2" cy="10.2" rx="11.4" ry="8.5" fill="none" stroke="#2e2e2e" stroke-width="3.3"/><path d="M13.2 18 L13.2 27.5" stroke="#2e2e2e" stroke-width="3" fill="none"/><path d="M8 23.6 L18.4 23.6" stroke="#2e2e2e" stroke-width="2.6" fill="none"/></svg>
<div class="bx" style="left:894.5px;top:1106.2px;width:254.0px;height:57.2px"></div>
<div class="t" style="left:901.50px;top:1112.21px;font-size:23.30px;line-height:30.895px;transform:scaleY(0.905);color:#484848;font-weight:normal;">13-1014022</div>
<div class="t" style="left:901.50px;top:1137.51px;font-size:15.70px;line-height:18.925px;transform:scaleY(0.93);color:#262626;font-weight:normal;">VADER "GEERT" VERMANDER</div>
<svg class="sym" style="left:1097.4px;top:1113.5px" width="27" height="28" viewBox="0 0 27 28"><ellipse cx="11.4" cy="16.9" rx="9.9" ry="10.4" fill="none" stroke="#2e2e2e" stroke-width="3.1"/><path d="M18.2 9.8 L23.4 4.4" stroke="#2e2e2e" stroke-width="3" fill="none"/><path d="M19.6 2.0 L26.2 1.0 L25.6 7.6 Z" fill="#2e2e2e"/></svg>
<div class="bx" style="left:894.4px;top:1161.4px;width:254.0px;height:56.8px"></div>
<div class="t" style="left:901.40px;top:1167.41px;font-size:23.30px;line-height:30.895px;transform:scaleY(0.905);color:#484848;font-weight:normal;">14-1175470</div>
<div class="t" style="left:901.40px;top:1192.71px;font-size:15.70px;line-height:18.925px;transform:scaleY(0.93);color:#262626;font-weight:normal;">AARDEN MOTHER "GEERT"</div>
<svg class="sym" style="left:1096.4px;top:1171.5px" width="27" height="28" viewBox="0 0 27 28"><ellipse cx="13.2" cy="10.2" rx="11.4" ry="8.5" fill="none" stroke="#2e2e2e" stroke-width="3.3"/><path d="M13.2 18 L13.2 27.5" stroke="#2e2e2e" stroke-width="3" fill="none"/><path d="M8 23.6 L18.4 23.6" stroke="#2e2e2e" stroke-width="2.6" fill="none"/></svg>
<div class="bx" style="left:894.2px;top:1236.2px;width:254.0px;height:57.3px"></div>
<div class="t" style="left:901.20px;top:1242.21px;font-size:23.30px;line-height:30.895px;transform:scaleY(0.905);color:#484848;font-weight:normal;">08-3115874</div>
<div class="t" style="left:901.20px;top:1267.51px;font-size:15.70px;line-height:18.925px;transform:scaleY(0.93);color:#262626;font-weight:normal;">"JUNIOR BARABAS" VERMANDER</div>
<svg class="sym" style="left:1097.1px;top:1243.5px" width="27" height="28" viewBox="0 0 27 28"><ellipse cx="11.4" cy="16.9" rx="9.9" ry="10.4" fill="none" stroke="#2e2e2e" stroke-width="3.1"/><path d="M18.2 9.8 L23.4 4.4" stroke="#2e2e2e" stroke-width="3" fill="none"/><path d="M19.6 2.0 L26.2 1.0 L25.6 7.6 Z" fill="#2e2e2e"/></svg>
<div class="bx" style="left:894.0px;top:1291.5px;width:254.0px;height:55.8px"></div>
<div class="t" style="left:901.00px;top:1297.51px;font-size:23.30px;line-height:30.895px;transform:scaleY(0.905);color:#484848;font-weight:normal;">14-3153656</div>
<div class="t" style="left:901.00px;top:1322.81px;font-size:15.70px;line-height:18.925px;transform:scaleY(0.93);color:#262626;font-weight:normal;">DTR "EDISON" EVERAERT</div>
<svg class="sym" style="left:1096.0px;top:1301.5px" width="27" height="28" viewBox="0 0 27 28"><ellipse cx="13.2" cy="10.2" rx="11.4" ry="8.5" fill="none" stroke="#2e2e2e" stroke-width="3.3"/><path d="M13.2 18 L13.2 27.5" stroke="#2e2e2e" stroke-width="3" fill="none"/><path d="M8 23.6 L18.4 23.6" stroke="#2e2e2e" stroke-width="2.6" fill="none"/></svg>
<div class="ln" style="left:325.6px;top:522.0px;width:31.0px;height:2px"></div>
<div class="ln" style="left:325.6px;top:637.5px;width:29.8px;height:2px"></div>
<div class="ln" style="left:323.6px;top:1030.0px;width:31.0px;height:2px"></div>
<div class="ln" style="left:323.6px;top:1144.5px;width:29.5px;height:2px"></div>
<div class="ln" style="left:607.8px;top:379.0px;width:20.2px;height:2px"></div>
<div class="ln" style="left:607.8px;top:509.8px;width:19.6px;height:2px"></div>
<div class="ln" style="left:606.2px;top:639.0px;width:20.8px;height:2px"></div>
<div class="ln" style="left:606.2px;top:770.0px;width:20.8px;height:2px"></div>
<div class="ln" style="left:605.5px;top:900.0px;width:20.7px;height:2px"></div>
<div class="ln" style="left:605.5px;top:1030.5px;width:20.7px;height:2px"></div>
<div class="ln" style="left:604.5px;top:1159.0px;width:20.9px;height:2px"></div>
<div class="ln" style="left:604.5px;top:1289.6px;width:19.7px;height:2px"></div>
<div class="ln" style="left:879.6px;top:354.3px;width:21.1px;height:2px"></div>
<div class="ln" style="left:879.6px;top:409.0px;width:21.1px;height:2px"></div>
<div class="ln" style="left:879.0px;top:483.4px;width:21.2px;height:2px"></div>
<div class="ln" style="left:879.0px;top:538.5px;width:21.0px;height:2px"></div>
<div class="ln" style="left:878.0px;top:614.5px;width:20.7px;height:2px"></div>
<div class="ln" style="left:878.0px;top:669.2px;width:20.6px;height:2px"></div>
<div class="ln" style="left:878.0px;top:744.0px;width:20.2px;height:2px"></div>
<div class="ln" style="left:878.0px;top:798.0px;width:20.0px;height:2px"></div>
<div class="ln" style="left:876.7px;top:875.5px;width:20.7px;height:2px"></div>
<div class="ln" style="left:876.7px;top:929.3px;width:20.6px;height:2px"></div>
<div class="ln" style="left:876.4px;top:1004.0px;width:20.6px;height:2px"></div>
<div class="ln" style="left:876.4px;top:1058.5px;width:20.4px;height:2px"></div>
<div class="ln" style="left:875.9px;top:1135.2px;width:20.6px;height:2px"></div>
<div class="ln" style="left:875.9px;top:1189.3px;width:20.5px;height:2px"></div>
<div class="ln" style="left:875.2px;top:1263.3px;width:21.0px;height:2px"></div>
<div class="ln" style="left:875.2px;top:1317.3px;width:20.8px;height:2px"></div>
<div class="ln" style="left:198.0px;top:719.0px;width:2px;height:15.0px"></div>
<div class="ln" style="left:198.0px;top:933.8px;width:2px;height:14.2px"></div>
<span class="lg" style="left:249.92px;top:1557.73px;transform:scaleX(0.9932)">D</span>
<span class="lg" style="left:311.60px;top:1557.73px;transform:scaleX(0.7619)">E</span>
<span class="lg" style="left:379.63px;top:1557.73px;transform:scaleX(0.9604)">W</span>
<span class="lg" style="left:453.47px;top:1557.73px;transform:scaleX(0.9060)">A</span>
<span class="lg" style="left:509.89px;top:1557.73px;transform:scaleX(0.7643)">E</span>
<span class="lg" style="left:555.97px;top:1557.73px;transform:scaleX(0.8660)">L</span>
<span class="lg" style="left:603.10px;top:1557.73px;transform:scaleX(0.7619)">E</span>
<span class="lg" style="left:668.92px;top:1557.73px;transform:scaleX(1.1635)">-</span>
<span class="lg" style="left:724.44px;top:1557.73px;transform:scaleX(1.0033)">T</span>
<span class="lg" style="left:774.73px;top:1557.73px;transform:scaleX(1.0423)">O</span>
<span class="lg" style="left:839.85px;top:1557.73px;transform:scaleX(0.8807)">Y</span>
<span class="lg" style="left:892.40px;top:1557.73px;transform:scaleX(0.7619)">E</span>
</body></html>
